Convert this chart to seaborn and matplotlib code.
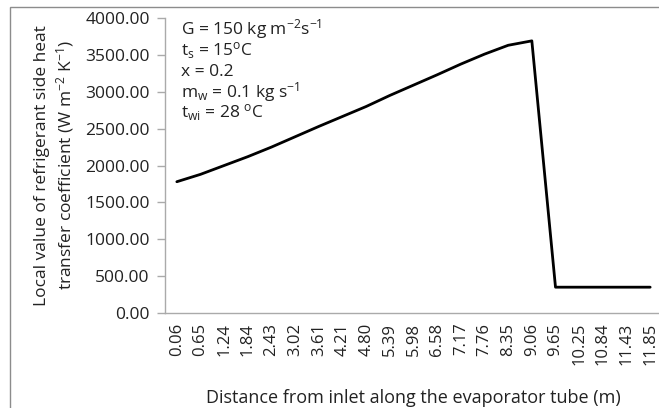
import matplotlib
matplotlib.use("Agg")
import matplotlib.pyplot as plt
from matplotlib.patches import Rectangle
import seaborn as sns
import pandas as pd

# Distance labels along the tube (m) and the local heat transfer coefficient
distance_labels = ["0.06", "0.65", "1.24", "1.84", "2.43", "3.02", "3.61",
                   "4.21", "4.80", "5.39", "5.98", "6.58", "7.17", "7.76",
                   "8.35", "9.06", "9.65", "10.25", "10.84", "11.43", "11.85"]
htc_values = [1780, 1880, 2000, 2120, 2250, 2390, 2530, 2665, 2800, 2950,
              3090, 3230, 3375, 3510, 3630, 3690, 350, 350, 350, 350, 350]
y_ticks = [0, 500, 1000, 1500, 2000, 2500, 3000, 3500, 4000]

sns.set_style("white")
plt.rcParams["font.family"] = ["Open Sans", "DejaVu Sans"]
plt.rcParams["mathtext.fontset"] = "custom"
plt.rcParams["mathtext.rm"] = "Open Sans"
plt.rcParams["mathtext.it"] = "Open Sans"
plt.rcParams["mathtext.default"] = "regular"

W, H = 659, 408
fig = plt.figure(figsize=(W / 100, H / 100), dpi=100)
ax = fig.add_axes([165 / W, 1 - 313 / H, 497 / W, (313 - 18) / H])

df = pd.DataFrame({"pos": range(len(distance_labels)), "htc": htc_values})
sns.lineplot(data=df, x="pos", y="htc", color="black", linewidth=2.0, ax=ax)

ax.set_xlim(-0.5, len(distance_labels) - 0.5)
ax.set_ylim(0, 4000)
ax.set_xticks(range(len(distance_labels)))
ax.set_xticklabels(distance_labels, rotation=90, fontsize=12, color="#222222")
ax.set_yticks(y_ticks)
ax.set_yticklabels([f"{v:.2f}" for v in y_ticks], fontsize=12.5, color="#222222")

for side in ("top", "right"):
    ax.spines[side].set_visible(False)
for side in ("left", "bottom"):
    ax.spines[side].set_color("#aaaaaa")
    ax.spines[side].set_linewidth(1.0)
ax.tick_params(axis="y", direction="out", length=6, width=1.0, color="#aaaaaa", pad=5, left=True)
ax.tick_params(axis="x", length=0, pad=7, bottom=True)

ax.set_xlabel("Distance from inlet along the evaporator tube (m)", fontsize=13,
              color="#222222", labelpad=17)
ax.set_ylabel("Local value of refrigerant side heat\n"
              "transfer coefficient (W m$^{-2}$ K$^{-1}$)",
              fontsize=12.5, color="#222222", labelpad=7, linespacing=1.2)

# Operating conditions
conditions = ["G = 150 kg m$^{-2}$s$^{-1}$",
              "t$_{s}$ = 15$^{o}$C",
              "x = 0.2",
              "m$_{w}$ = 0.1 kg s$^{-1}$",
              "t$_{wi}$ = 28 $^{o}$C"]
y_pos = [29, 51, 72, 92, 113]
for txt, yp in zip(conditions, y_pos):
    fig.text(181 / W, 1 - yp / H, txt, fontsize=12.5, color="#222222", va="center", ha="left")

# Chart area border
fig.patches.append(Rectangle((10 / W, -0.1), 1.2, 1.1 - 7 / H, transform=fig.transFigure,
                             fill=False, edgecolor="#8c8c8c", linewidth=1.0))

fig.savefig("out.png", dpi=100)
